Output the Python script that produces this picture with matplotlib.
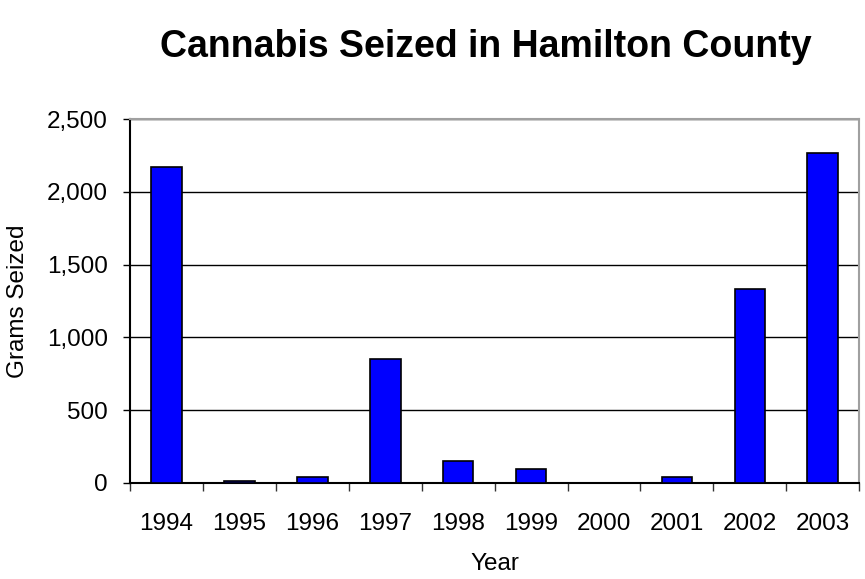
import matplotlib.pyplot as plt
import numpy as np

years = ["1994", "1995", "1996", "1997", "1998", "1999", "2000", "2001", "2002", "2003"]
grams = [2170, 15, 43, 851, 152, 97, 0, 43, 1332, 2268]
y_ticks = [0, 500, 1000, 1500, 2000, 2500]

plt.rcParams["font.family"] = ["Liberation Sans", "DejaVu Sans"]

fig = plt.figure(figsize=(8.65, 5.79), dpi=100)
ax = fig.add_axes([0.1503, 0.166, 0.843, 0.628])

x = np.arange(len(years))
ax.bar(x, grams, width=0.42, color="#0000FF", edgecolor="black", linewidth=1.2, zorder=3)

ax.set_xlim(-0.5, len(years) - 0.5)
ax.set_ylim(0, 2500)
ax.set_yticks(y_ticks)
ax.set_yticklabels([f"{v:,}" for v in y_ticks], fontsize=17.5)
ax.yaxis.grid(True, color="black", linewidth=1)
ax.set_axisbelow(True)

# category labels centered, tick marks between categories
ax.set_xticks(x)
ax.set_xticklabels(years, fontsize=17.5)
ax.tick_params(axis="x", which="major", length=0, pad=22)
ax.set_xticks(np.arange(len(years) + 1) - 0.5, minor=True)
ax.tick_params(axis="x", which="minor", length=6, width=1, direction="out", color="#333333")
ax.tick_params(axis="y", length=5, width=1, direction="out", pad=11)

for side in ["top", "right"]:
    ax.spines[side].set_color("#A0A0A0")
    ax.spines[side].set_linewidth(1.5)
ax.spines["left"].set_linewidth(1.5)
ax.spines["bottom"].set_linewidth(1.5)

ax.set_xlabel("Year", fontsize=17.5, labelpad=13)
ax.set_ylabel("Grams Seized", fontsize=17.5, labelpad=13)
fig.text(0.562, 0.918, "Cannabis Seized in Hamilton County", ha="center", va="center",
         fontsize=27, fontweight="bold")

fig.savefig("out.png", dpi=100)
